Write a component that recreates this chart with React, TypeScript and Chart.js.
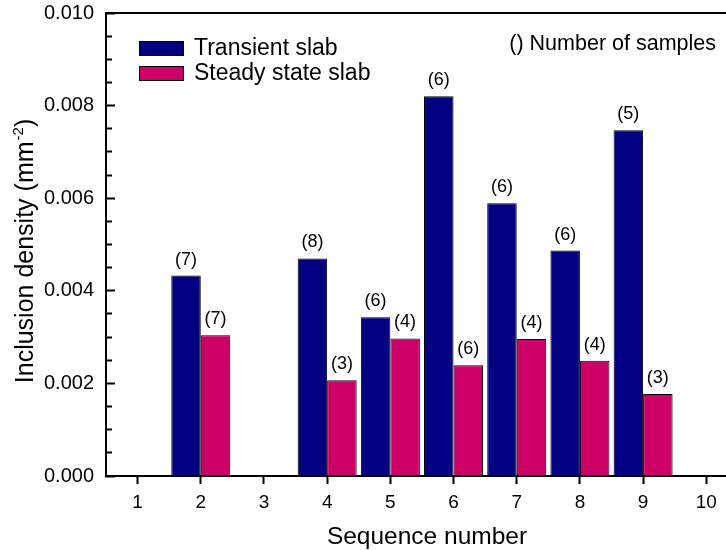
import React, { useEffect, useRef } from 'react';
import { Chart, registerables } from 'chart.js';

Chart.register(...registerables);

const categories = [2, 4, 5, 6, 7, 8, 9];
const transientValues = [0.00433, 0.0047, 0.00343, 0.0082, 0.00589, 0.00487, 0.00747];
const steadyValues = [0.00304, 0.00207, 0.00297, 0.00239, 0.00296, 0.00249, 0.00177];
const transientSamples = [7, 8, 6, 6, 6, 6, 5];
const steadySamples = [7, 3, 4, 6, 4, 4, 3];
const xTickValues = [1, 2, 3, 4, 5, 6, 7, 8, 9, 10];
const yMajorTicks = [0, 0.002, 0.004, 0.006, 0.008, 0.01];
const yMinorTicks = [0.0005, 0.001, 0.0015, 0.0025, 0.003, 0.0035, 0.0045, 0.005, 0.0055, 0.0065, 0.007, 0.0075, 0.0085, 0.009, 0.0095];
const seriesLabels = ['Transient slab', 'Steady state slab'];
const noteText = '() Number of samples';
const yTitleMain = 'Inclusion density (mm';
const yTitleSup = '-2';
const yTitleEnd = ')';

const FONT = '"Liberation Sans", Arial, sans-serif';
const CANVAS_W = 748;
const X_MIN = 0.5;
const X_MAX = 10.66;

const annotatePlugin = {
  id: 'annotate',
  afterDatasetsDraw(chart: any) {
    const ctx = chart.ctx;
    const { left, top, bottom } = chart.chartArea;
    ctx.save();
    // sample counts above bars
    ctx.font = `18px ${FONT}`;
    ctx.fillStyle = '#000';
    ctx.textAlign = 'center';
    ctx.textBaseline = 'alphabetic';
    chart.data.datasets.forEach((ds: any, di: number) => {
      const meta = chart.getDatasetMeta(di);
      meta.data.forEach((bar: any, i: number) => {
        ctx.fillText(`(${ds.samples[i]})`, bar.x, bar.y - 11);
      });
    });
    // legend
    chart.data.datasets.forEach((ds: any, di: number) => {
      const bx = left + 33;
      const by = top + 28 + di * 25;
      ctx.fillStyle = ds.backgroundColor;
      ctx.fillRect(bx, by, 45, 15);
      ctx.strokeStyle = '#000';
      ctx.lineWidth = 1;
      ctx.strokeRect(bx + 0.5, by + 0.5, 44, 14);
      ctx.fillStyle = '#000';
      ctx.font = `23px ${FONT}`;
      ctx.textAlign = 'left';
      ctx.textBaseline = 'middle';
      ctx.fillText(ds.label, left + 88, by + 8);
    });
    // note (right-aligned near the visible right edge of the page)
    ctx.font = `21.5px ${FONT}`;
    ctx.textAlign = 'right';
    ctx.textBaseline = 'middle';
    ctx.fillText(noteText, 716, top + 31);
    ctx.restore();

    // y-axis title with superscript
    ctx.save();
    ctx.fillStyle = '#000';
    ctx.textBaseline = 'alphabetic';
    ctx.textAlign = 'left';
    ctx.font = `25px ${FONT}`;
    const wMain = ctx.measureText(yTitleMain).width;
    ctx.font = `15px ${FONT}`;
    const wSup = ctx.measureText(yTitleSup).width;
    ctx.font = `25px ${FONT}`;
    const wEnd = ctx.measureText(yTitleEnd).width;
    const total = wMain + wSup + wEnd;
    const cy = (top + bottom) / 2 + 7;
    ctx.translate(33, cy + total / 2);
    ctx.rotate(-Math.PI / 2);
    ctx.fillText(yTitleMain, 0, 0);
    ctx.font = `15px ${FONT}`;
    ctx.fillText(yTitleSup, wMain + 1, -10);
    ctx.font = `25px ${FONT}`;
    ctx.fillText(yTitleEnd, wMain + wSup + 1, 0);
    ctx.restore();
  },
};

export default function App() {
  const ref = useRef<HTMLCanvasElement | null>(null);

  useEffect(() => {
    if (!ref.current) return;
    Chart.defaults.font.family = FONT;
    Chart.defaults.color = '#000';
    const chart = new Chart(ref.current, {
      type: 'bar',
      data: {
        datasets: [
          {
            label: seriesLabels[0],
            data: categories.map((c, i) => ({ x: c, y: transientValues[i] })),
            backgroundColor: '#000080',
            borderColor: '#000000',
            borderWidth: 1,
            samples: transientSamples,
          } as any,
          {
            label: seriesLabels[1],
            data: categories.map((c, i) => ({ x: c, y: steadyValues[i] })),
            backgroundColor: '#CC0066',
            borderColor: '#000000',
            borderWidth: 1,
            samples: steadySamples,
          } as any,
        ],
      },
      options: {
        responsive: false,
        animation: false,
        layout: { padding: { top: 13, right: 0, left: 0, bottom: 0 } },
        datasets: { bar: { categoryPercentage: 0.934, barPercentage: 1 } },
        plugins: { legend: { display: false }, tooltip: { enabled: false } },
        scales: {
          x: {
            type: 'linear',
            position: 'bottom',
            min: X_MIN,
            max: X_MAX,
            offset: false,
            afterBuildTicks: (s: any) => {
              s.ticks = xTickValues.map((v) => ({ value: v }));
            },
            afterFit: (s: any) => {
              s.height = 74;
              s.paddingLeft = 0;
              s.paddingRight = 0;
            },
            grid: { offset: false, drawOnChartArea: false, drawTicks: true, tickLength: 8, tickWidth: 2, tickColor: '#000' },
            border: { display: true, color: '#000', width: 2 },
            ticks: { font: { size: 19 }, padding: 7, color: '#000', maxRotation: 0, autoSkip: false, callback: (v: any) => String(v) },
            title: { display: true, text: 'Sequence number', font: { size: 24.5, lineHeight: 1 }, padding: { top: 0, bottom: 1 }, color: '#000' },
          },
          x2: {
            type: 'linear',
            position: 'top',
            min: X_MIN,
            max: X_MAX,
            afterFit: (s: any) => {
              s.height = 0;
              s.paddingLeft = 0;
              s.paddingRight = 0;
            },
            grid: { drawOnChartArea: false, drawTicks: false },
            border: { display: true, color: '#000', width: 2 },
            ticks: { display: false },
          },
          y: {
            type: 'linear',
            position: 'left',
            weight: 1,
            min: 0,
            max: 0.01,
            afterBuildTicks: (s: any) => {
              s.ticks = yMajorTicks.map((v) => ({ value: v }));
            },
            afterFit: (s: any) => {
              s.width = 106;
              s.paddingTop = 0;
              s.paddingBottom = 0;
            },
            grid: { drawOnChartArea: false, drawTicks: true, tickLength: -9, tickWidth: 2, tickColor: '#000' },
            border: { display: true, color: '#000', width: 2 },
            ticks: { font: { size: 20 }, padding: 21, color: '#000', callback: (v: any) => Number(v).toFixed(3) },
            title: { display: false },
          },
          yMinor: {
            type: 'linear',
            position: 'left',
            weight: 0,
            min: 0,
            max: 0.01,
            afterBuildTicks: (s: any) => {
              s.ticks = yMinorTicks.map((v) => ({ value: v }));
            },
            afterFit: (s: any) => {
              s.width = 0;
              s.paddingTop = 0;
              s.paddingBottom = 0;
            },
            grid: { drawOnChartArea: false, drawTicks: true, tickLength: -6, tickWidth: 2, tickColor: '#000' },
            border: { display: false },
            ticks: { display: false },
          },
        },
      } as any,
      plugins: [annotatePlugin],
    });
    return () => chart.destroy();
  }, []);

  return (
    <div style={{ position: 'fixed', left: 0, top: 0, width: 726, height: 550, overflow: 'hidden', background: '#fff' }}>
      <canvas ref={ref} width={CANVAS_W} height={550} style={{ display: 'block' }} />
    </div>
  );
}
